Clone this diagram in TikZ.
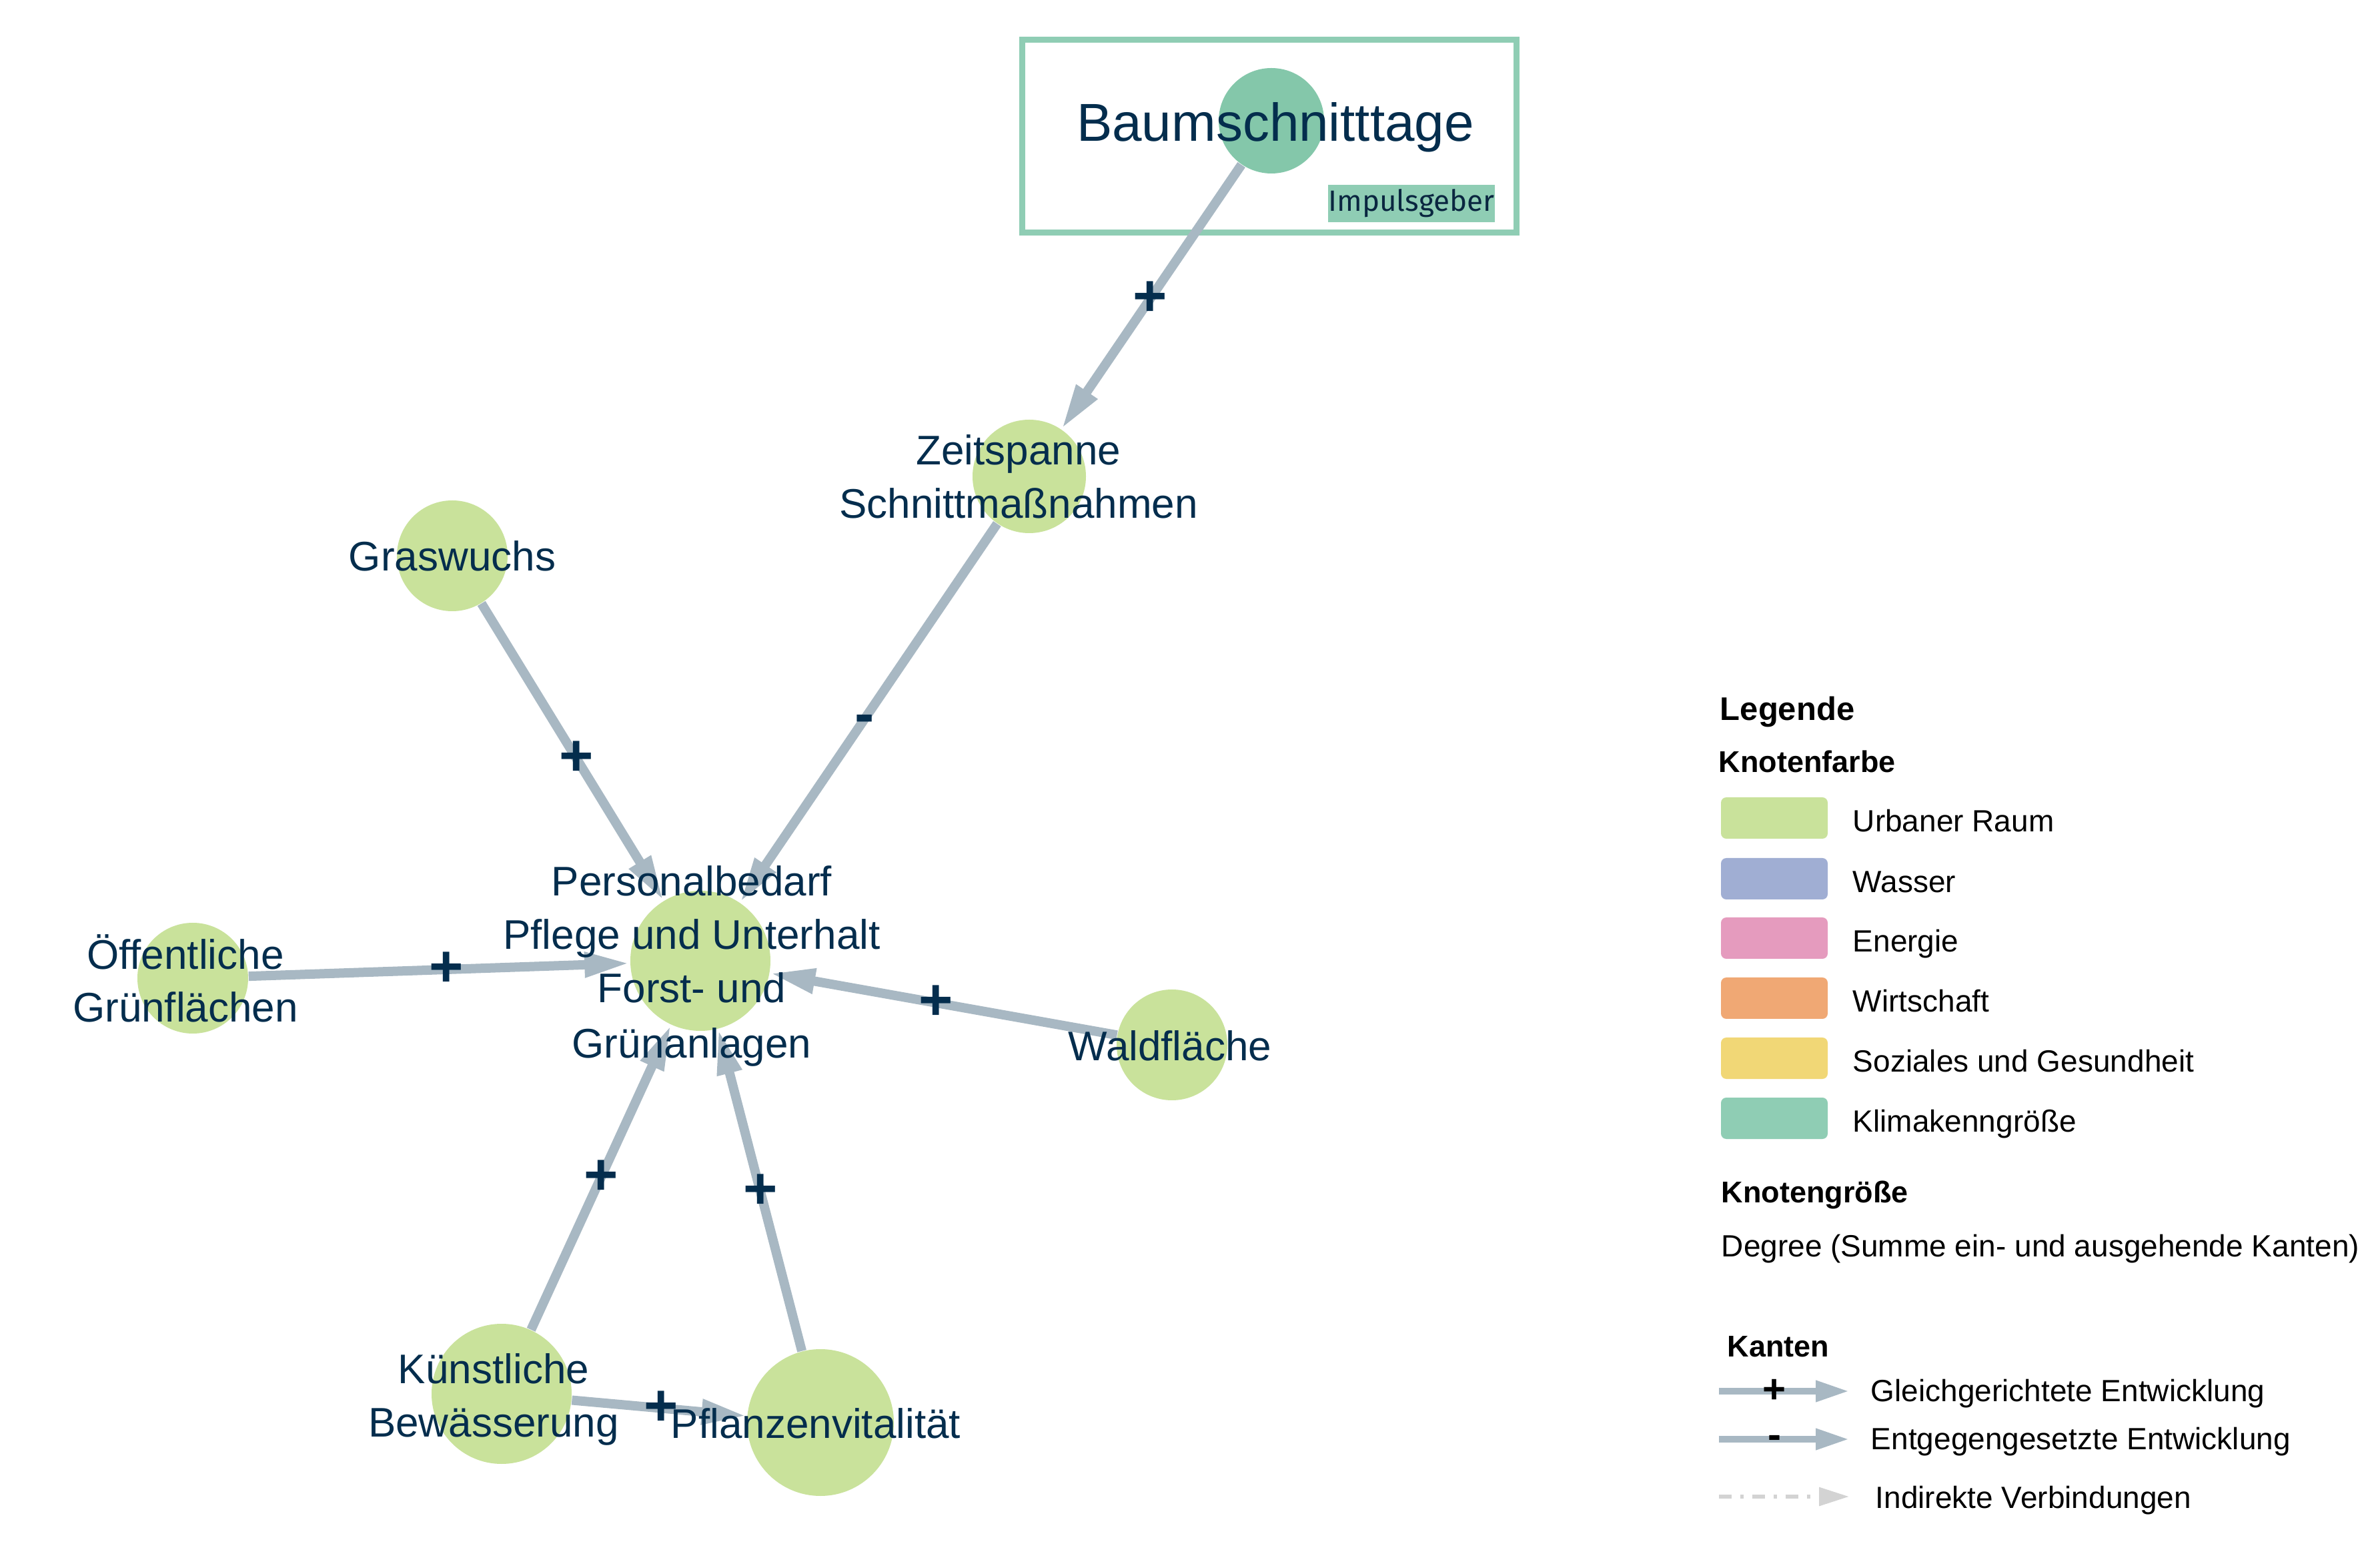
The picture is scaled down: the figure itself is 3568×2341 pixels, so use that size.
\documentclass[tikz,border=0pt]{standalone}
\usepackage{fontspec}
\setmainfont{Liberation Sans}
\newfontfamily\firafont{Fira Sans}
\usetikzlibrary{arrows.meta,calc}
\definecolor{navy}{HTML}{042D4D}
\definecolor{impnavy}{HTML}{0A2640}
\definecolor{edgegray}{HTML}{A8B8C3}
\definecolor{urban}{HTML}{C9E29B}
\definecolor{klimanode}{HTML}{84C7AA}
\definecolor{klima}{HTML}{8FCDB4}
\definecolor{wasser}{HTML}{A0AED3}
\definecolor{energie}{HTML}{E59BBE}
\definecolor{wirtschaft}{HTML}{F0A874}
\definecolor{soziales}{HTML}{F1D776}
\definecolor{indirekt}{HTML}{D3D3D3}
\begin{document}
\begin{tikzpicture}[x=0.25pt,y=-0.25pt,
  dot/.style={circle, fill=urban, draw=none, inner sep=0, minimum size=#1},
  lbl/.style={anchor=base, inner sep=0, text=navy, font=\fontsize{15.5}{19}\selectfont},
  rel/.style={draw=edgegray, line width=3.5pt, -{Triangle[length=17pt,width=8.75pt]}},
  sign/.style={inner sep=0, text=navy, font=\fontsize{22}{22}\selectfont\bfseries},
  swatch/.style={rounded corners=2pt, minimum width=40pt, minimum height=15.5pt, inner sep=0, draw=none},
  legtxt/.style={anchor=base west, inner sep=0, font=\fontsize{11.5}{14}\selectfont},
  leghead/.style={anchor=base west, inner sep=0, font=\fontsize{11.25}{14}\selectfont\bfseries},
  legrel/.style={draw=edgegray, line width=2.5pt, -{Triangle[length=12.5pt,width=7.5pt]}},
  lsign/.style={inner sep=0, text=black, font=\fontsize{15}{15}\selectfont\bfseries}
]
\fill[white] (0,0) rectangle (3568,2341);
\useasboundingbox (0,0) rectangle (3568,2341);

% Impulsgeber frame
\node[draw=klima, line width=2.25pt, minimum width=185.25pt, minimum height=72.25pt, inner sep=0] (frame) at (1903,204) {};

% circles
\node[dot=39.5pt, fill=klimanode] (cB) at (1906,181) {};
\node[dot=42.5pt] (cZ) at (1543,714) {};
\node[dot=41.5pt] (cG) at (678,833) {};
\node[dot=52.5pt] (cP) at (1050,1440) {};
\node[dot=41.5pt] (cO) at (289,1466) {};
\node[dot=41.5pt] (cW) at (1757,1566) {};
\node[dot=52.5pt] (cK) at (752,2089) {};
\node[dot=55pt] (cPf) at (1230,2132) {};

% edges
\draw[rel] (cB) -- (cZ);
\draw[rel] (cZ) -- (cP);
\draw[rel] (cG) -- (cP);
\draw[rel] (cO) -- (cP);
\draw[rel] (cW) -- (cP);
\draw[rel] (cK) -- (cP);
\draw[rel] (cPf) -- (cP);
\draw[rel] (cK) -- (cPf);

% edge signs
\node[sign] (s1) at ($(cB)!0.5!(cZ)$) {+};
\node[sign, yshift=-2pt] (s2) at ($(cZ)!0.5!(cP)$) {-};
\node[sign] (s3) at ($(cG)!0.5!(cP)$) {+};
\node[sign] (s4) at ($(cO)!0.5!(cP)$) {+};
\node[sign] (s5) at ($(cW)!0.5!(cP)$) {+};
\node[sign] (s6) at ($(cK)!0.5!(cP)$) {+};
\node[sign] (s7) at ($(cPf)!0.5!(cP)$) {+};
\node[sign] (s8) at ($(cK)!0.5!(cPf)$) {+};

% node texts
\node[anchor=base, inner sep=0, text=navy, font=\fontsize{20}{24}\selectfont] (tB) at (1912,212) {Baumschnitttage};
\node[fill=klima, minimum width=62pt, minimum height=14pt, inner sep=0, text=impnavy, font=\firafont\fontsize{11}{13}\selectfont] (imp) at (2116,305) {Impulsgeber};
\node[lbl] (tZ1) at (1527,697) {Zeitspanne};
\node[lbl] (tZ2) at (1527,777) {Schnittmaßnahmen};
\node[lbl] (tG) at (678,856) {Graswuchs};
\node[lbl] (tP1) at (1037,1343) {Personalbedarf};
\node[lbl] (tP2) at (1037,1423) {Pflege und Unterhalt};
\node[lbl] (tP3) at (1037,1503) {Forst- und};
\node[lbl] (tP4) at (1037,1585) {Grünanlagen};
\node[lbl] (tO1) at (278,1452) {Öffentliche};
\node[lbl] (tO2) at (278,1532) {Grünflächen};
\node[lbl] (tW) at (1754,1590) {Waldfläche};
\node[lbl] (tK1) at (740,2073) {Künstliche};
\node[lbl] (tK2) at (740,2153) {Bewässerung};
\node[lbl] (tPf) at (1223,2155) {Pflanzenvitalität};

% legend
\node[anchor=base west, inner sep=0, font=\fontsize{12.25}{14}\selectfont\bfseries] (legT) at (2578,1080) {Legende};
\node[leghead] (kfT) at (2576,1158) {Knotenfarbe};
\node[swatch, fill=urban] (sw1) at (2660,1226) {};
\node[swatch, fill=wasser] (sw2) at (2660,1317) {};
\node[swatch, fill=energie] (sw3) at (2660,1406) {};
\node[swatch, fill=wirtschaft] (sw4) at (2660,1496) {};
\node[swatch, fill=soziales] (sw5) at (2660,1586) {};
\node[swatch, fill=klima] (sw6) at (2660,1676) {};
\node[legtxt] (lt1) at (2777,1247) {Urbaner Raum};
\node[legtxt] (lt2) at (2777,1338) {Wasser};
\node[legtxt] (lt3) at (2777,1427) {Energie};
\node[legtxt] (lt4) at (2777,1517) {Wirtschaft};
\node[legtxt] (lt5) at (2777,1607) {Soziales und Gesundheit};
\node[legtxt] (lt6) at (2777,1697) {Klimakenngröße};
\node[leghead] (kgT) at (2580,1802) {Knotengröße};
\node[legtxt] (deg) at (2580,1883) {Degree (Summe ein- und ausgehende Kanten)};
\node[leghead] (kaT) at (2589,2033) {Kanten};

\coordinate (la1) at (2577,2085); \coordinate (lb1) at (2772,2085);
\coordinate (la2) at (2577,2157); \coordinate (lb2) at (2772,2157);
\coordinate (la3) at (2577,2243); \coordinate (lb3) at (2772,2243);
\draw[legrel] (la1) -- (lb1);
\draw[legrel] (la2) -- (lb2);
\draw[draw=indirekt, line width=1.5pt, dash pattern=on 4.75pt off 3.25pt on 1.25pt off 3.25pt, -{Triangle[length=11.25pt,width=6.75pt]}] (la3) -- (lb3);
\node[lsign] (lp1) at (2660,2085) {+};
\node[lsign, yshift=-1pt] (lp2) at (2660,2157) {-};
\node[legtxt] (le1) at (2804,2100) {Gleichgerichtete Entwicklung};
\node[legtxt] (le2) at (2804,2172) {Entgegengesetzte Entwicklung};
\node[legtxt] (le3) at (2811,2260) {Indirekte Verbindungen};
\end{tikzpicture}
\end{document}
